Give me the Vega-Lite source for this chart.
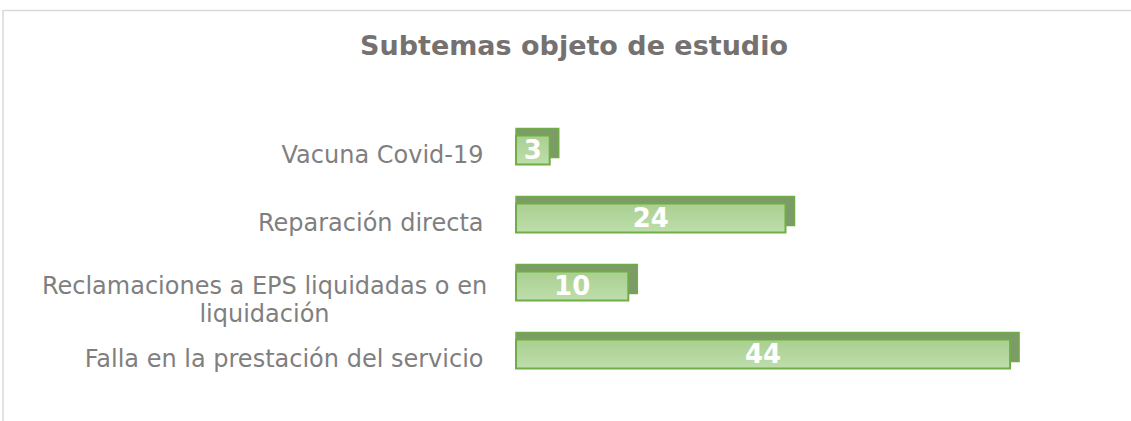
{
  "$schema": "https://vega.github.io/schema/vega-lite/v6.json",
  "width": 1128,
  "height": 411,
  "autosize": {"type": "none"},
  "padding": {"left": 3, "top": 10, "right": 0, "bottom": 0},
  "background": "white",
  "config": {"view": {"stroke": null}, "font": "DejaVu Sans"},
  "title": {
    "text": "Subtemas objeto de estudio",
    "font": "DejaVu Sans",
    "fontSize": 27,
    "fontWeight": "bold",
    "color": "#767171",
    "anchor": "middle",
    "frame": "group",
    "offset": -52,
    "dx": 7
  },
  "data": {
    "values": [
      {"tema": "Vacuna Covid-19", "n": 3},
      {"tema": "Reparación directa", "n": 24},
      {"tema": "Reclamaciones a EPS liquidadas o en liquidación", "n": 10},
      {"tema": "Falla en la prestación del servicio", "n": 44}
    ]
  },
  "layer": [
    {
      "data": {"values": [{}]},
      "mark": {"type": "rule", "color": "#d9d9d9", "strokeWidth": 1.5},
      "encoding": {
        "x": {
          "datum": -45.69,
          "type": "quantitative",
          "scale": {"domain": [-45.69, 54.77], "nice": false, "zero": false},
          "axis": {"orient": "top", "title": null, "labels": false, "ticks": false, "grid": false, "domain": true, "domainColor": "#d9d9d9", "domainWidth": 1.5}
        }
      }
    },
    {
      "mark": {"type": "bar", "fill": "#7d9b69", "stroke": "#70ad47", "strokeWidth": 1.5, "xOffset": 9, "yOffset": -7},
      "encoding": {
        "y": {
          "field": "tema",
          "type": "nominal",
          "sort": ["Vacuna Covid-19", "Reparación directa", "Reclamaciones a EPS liquidadas o en liquidación", "Falla en la prestación del servicio"],
          "scale": {"paddingInner": 0.574, "paddingOuter": 0, "range": [125.5, 358.5]},
          "axis": {
            "title": null,
            "domain": false,
            "ticks": false,
            "grid": false,
            "labelFont": "DejaVu Sans",
            "labelFontSize": 24,
            "labelColor": "#7f7f7f",
            "labelLimit": 0,
            "labelLineHeight": 28,
            "labelAlign": {"condition": {"test": "datum.value == 'Reclamaciones a EPS liquidadas o en liquidación'", "value": "center"}, "value": "right"},
            "labelPadding": {"condition": {"test": "datum.value == 'Reclamaciones a EPS liquidadas o en liquidación'", "value": -261}, "value": -480},
            "labelOffset": {"condition": {"test": "datum.value == 'Reclamaciones a EPS liquidadas o en liquidación'", "value": 1}, "value": 6},
            "labelExpr": "datum.value == 'Reclamaciones a EPS liquidadas o en liquidación' ? ['Reclamaciones a EPS liquidadas o en', 'liquidación'] : datum.value"
          }
        },
        "x": {"field": "n", "type": "quantitative"},
        "x2": {"datum": 0}
      }
    },
    {
      "mark": {
        "type": "bar",
        "fill": {"gradient": "linear", "x1": 0, "y1": 0, "x2": 0, "y2": 1, "stops": [{"offset": 0, "color": "#a9cf90"}, {"offset": 1, "color": "#bedeab"}]},
        "stroke": "#70ad47",
        "strokeWidth": 2
      },
      "encoding": {
        "y": {"field": "tema", "type": "nominal", "sort": ["Vacuna Covid-19", "Reparación directa", "Reclamaciones a EPS liquidadas o en liquidación", "Falla en la prestación del servicio"]},
        "x": {"field": "n", "type": "quantitative"},
        "x2": {"datum": 0}
      }
    },
    {
      "transform": [{"calculate": "datum.n / 2", "as": "mid"}],
      "mark": {"type": "text", "color": "white", "font": "DejaVu Sans", "fontSize": 26, "fontWeight": "bold", "align": "center", "baseline": "middle", "dy": 1},
      "encoding": {
        "y": {"field": "tema", "type": "nominal", "sort": ["Vacuna Covid-19", "Reparación directa", "Reclamaciones a EPS liquidadas o en liquidación", "Falla en la prestación del servicio"]},
        "x": {"field": "mid", "type": "quantitative"},
        "text": {"field": "n", "type": "quantitative"}
      }
    }
  ]
}
